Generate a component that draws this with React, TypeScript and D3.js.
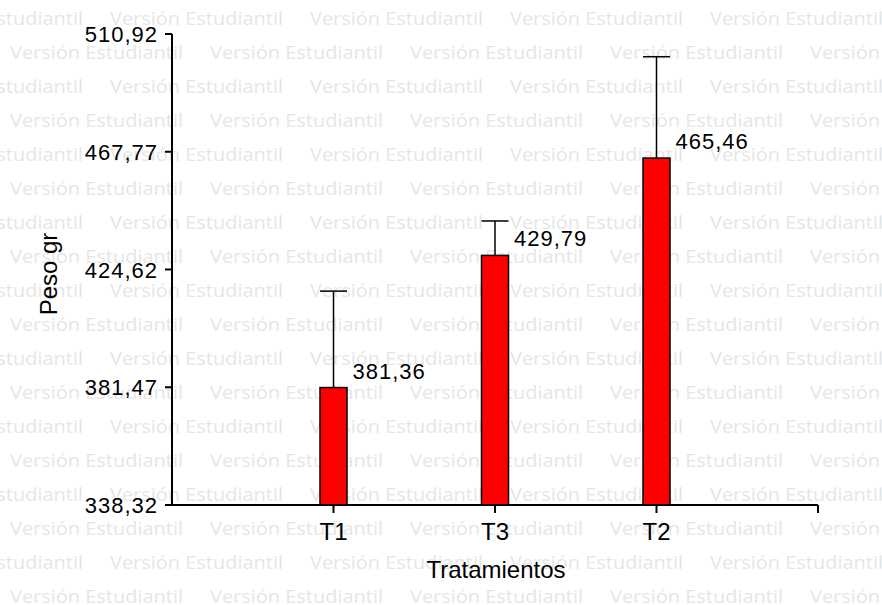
import React from "react";
import * as d3 from "d3";

const categories = ["T1", "T3", "T2"];
const means = [381.36, 429.79, 465.46];
const errorTops = [416.7, 442.4, 502.6];
const meanLabels = ["381,36", "429,79", "465,46"];
const yTicks = [338.32, 381.47, 424.62, 467.77, 510.92];
const yTickLabels = ["338,32", "381,47", "424,62", "467,77", "510,92"];
const watermarkText = "Versión Estudiantil";

const W = 882;
const H = 605;

export default function App() {
  const y = d3.scaleLinear().domain([338.32, 510.92]).range([505, 34]);
  const x = d3.scaleLinear().domain([0, categories.length + 1]).range([172, 818]);
  const barW = 27;

  const rows = d3.range(18);
  const cols = d3.range(-1, 6);

  const font = "'Liberation Sans', Arial, sans-serif";

  return (
    <svg
      width={W}
      height={H}
      style={{ position: "absolute", left: 0, top: 0, background: "#fff" }}
    >
      {/* watermark */}
      <g fill="#e6e6e6" fontFamily="'Open Sans', 'Noto Sans', sans-serif" fontSize={19}>
        {rows.map((r) =>
          cols.map((c) => {
            const off = r % 2 === 0 ? -90 : 10;
            return (
              <text
                key={`${r}-${c}`}
                x={off + c * 200}
                y={25 + r * 34}
                textLength={173}
                lengthAdjust="spacingAndGlyphs"
              >
                {watermarkText}
              </text>
            );
          })
        )}
      </g>

      {/* bars */}
      {categories.map((c, i) => {
        const cx = x(i + 1);
        return (
          <g key={c}>
            <line
              x1={cx}
              x2={cx}
              y1={y(means[i])}
              y2={y(errorTops[i])}
              stroke="#000"
              strokeWidth={1.5}
            />
            <line
              x1={cx - barW / 2}
              x2={cx + barW / 2}
              y1={y(errorTops[i])}
              y2={y(errorTops[i])}
              stroke="#000"
              strokeWidth={1.5}
            />
            <rect
              x={cx - barW / 2}
              y={y(means[i])}
              width={barW}
              height={y(338.32) - y(means[i])}
              fill="#ff0000"
              stroke="#000"
              strokeWidth={1.5}
            />
            <text
              x={cx + 19}
              y={y(means[i]) - 9}
              fontFamily={font}
              fontSize={22}
              letterSpacing={1}
              fill="#000"
            >
              {meanLabels[i]}
            </text>
          </g>
        );
      })}

      {/* y axis */}
      <line x1={172} x2={172} y1={y(510.92)} y2={y(338.32)} stroke="#000" strokeWidth={2} />
      {yTicks.map((t, i) => (
        <g key={t}>
          <line x1={165} x2={172} y1={y(t)} y2={y(t)} stroke="#000" strokeWidth={2} />
          <text
            x={158}
            y={y(t) + 8}
            textAnchor="end"
            fontFamily={font}
            fontSize={22}
            letterSpacing={1}
            fill="#000"
          >
            {yTickLabels[i]}
          </text>
        </g>
      ))}

      {/* x axis */}
      <line x1={172} x2={x(categories.length + 1)} y1={505} y2={505} stroke="#000" strokeWidth={2} />
      {d3.range(1, categories.length + 2).map((k) => (
        <line key={k} x1={x(k)} x2={x(k)} y1={505} y2={513} stroke="#000" strokeWidth={2} />
      ))}
      {categories.map((c, i) => (
        <text
          key={c}
          x={x(i + 1)}
          y={540}
          textAnchor="middle"
          fontFamily={font}
          fontSize={24}
          fill="#000"
        >
          {c}
        </text>
      ))}

      <text
        x={496}
        y={578}
        textAnchor="middle"
        fontFamily={font}
        fontSize={24}
        fill="#000"
      >
        Tratamientos
      </text>
      <text
        transform="translate(57,274) rotate(-90)"
        textAnchor="middle"
        fontFamily={font}
        fontSize={24}
        fill="#000"
      >
        Peso gr
      </text>
    </svg>
  );
}
